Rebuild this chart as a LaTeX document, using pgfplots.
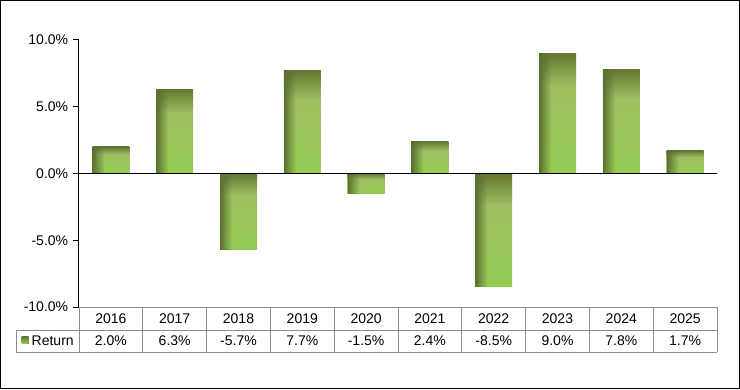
\documentclass[border=0pt]{standalone}
\usepackage{pgfplots}
\pgfplotsset{compat=1.18}
\usepackage{fontspec}
\setmainfont{Liberation Sans}
\usetikzlibrary{fadings}
\definecolor{olivedark}{HTML}{637833}
\definecolor{greenmid}{HTML}{A0BF62}
\definecolor{greenlight}{HTML}{93CC52}
\definecolor{stripdark}{HTML}{5A7030}
\definecolor{tablegray}{HTML}{8C8C8C}
\pgfdeclareverticalshading{barshade}{100bp}{color(0bp)=(greenlight); color(25bp)=(greenlight); color(61bp)=(greenmid); color(68bp)=(greenmid!50!olivedark); color(75bp)=(olivedark); color(100bp)=(olivedark)}
\newcommand\onebar[2]{%
  \addplot[ybar, bar width=37pt, bar shift=0pt, draw=none, shade, shading=barshade] coordinates {(#1,#2)};
  \addplot[ybar, bar width=12pt, bar shift=-12.5pt, draw=none, fill=stripdark, path fading=east] coordinates {(#1,#2)};
}
\begin{document}
\fontsize{14pt}{16pt}\selectfont
\begin{tikzpicture}[x=1pt,y=1pt]
\useasboundingbox (0,0) rectangle (740,389);
\draw[line width=1.3pt] (0.65,0.65) rectangle (739.35,388.35);
\begin{axis}[
  at={(79pt,82pt)}, anchor=south west,
  scale only axis, width=638pt, height=267pt,
  xmin=-0.5, xmax=9.5, ymin=-10, ymax=10,
  axis x line=none, axis y line*=left,
  y axis line style={line width=1pt, -},
  ytick={-10,-5,0,5,10},
  tick align=outside, major tick length=6pt,
  ytick style={black, line width=1pt},
  /pgf/number format/assume math mode=true,
  yticklabel={\pgfmathprintnumber[fixed,fixed zerofill,precision=1]{\tick}\%},
  yticklabel style={font=\fontsize{14pt}{16pt}\selectfont},
  clip=false,
]
\onebar{0}{2.0}
\onebar{1}{6.3}
\onebar{2}{-5.7}
\onebar{3}{7.7}
\onebar{4}{-1.5}
\onebar{5}{2.4}
\onebar{6}{-8.5}
\onebar{7}{9.0}
\onebar{8}{7.8}
\onebar{9}{1.7}
\draw[black, line width=1pt] (axis cs:-0.5,0) -- (axis cs:9.5,0);
\end{axis}
% data table
\begin{scope}[tablegray, line width=0.9pt]
\draw (79,82) -- (717,82);
\draw (16,59) -- (717,59);
\draw (16,37) -- (717,37);
\draw (16,59) -- (16,37);
\foreach \k in {0,...,10} { \draw ({79+63.8*\k},82) -- ({79+63.8*\k},37); }
\end{scope}
\foreach \yr [count=\i from 0] in {2016,2017,2018,2019,2020,2021,2022,2023,2024,2025}
  \node[font=\fontsize{14pt}{16pt}\selectfont] at ({79+63.8*\i+31.9},70.5) {\yr};
\foreach \v [count=\i from 0] in {2.0\%,6.3\%,-5.7\%,7.7\%,-1.5\%,2.4\%,-8.5\%,9.0\%,7.8\%,1.7\%}
  \node[font=\fontsize{14pt}{16pt}\selectfont] at ({79+63.8*\i+31.9},48) {\v};
\fill[top color=olivedark, bottom color=greenlight] (21.5,45.5) rectangle (28.5,52.5);
\node[anchor=west, font=\fontsize{14pt}{16pt}\selectfont, inner sep=0pt] at (31.5,48) {Return};
\end{tikzpicture}
\end{document}
